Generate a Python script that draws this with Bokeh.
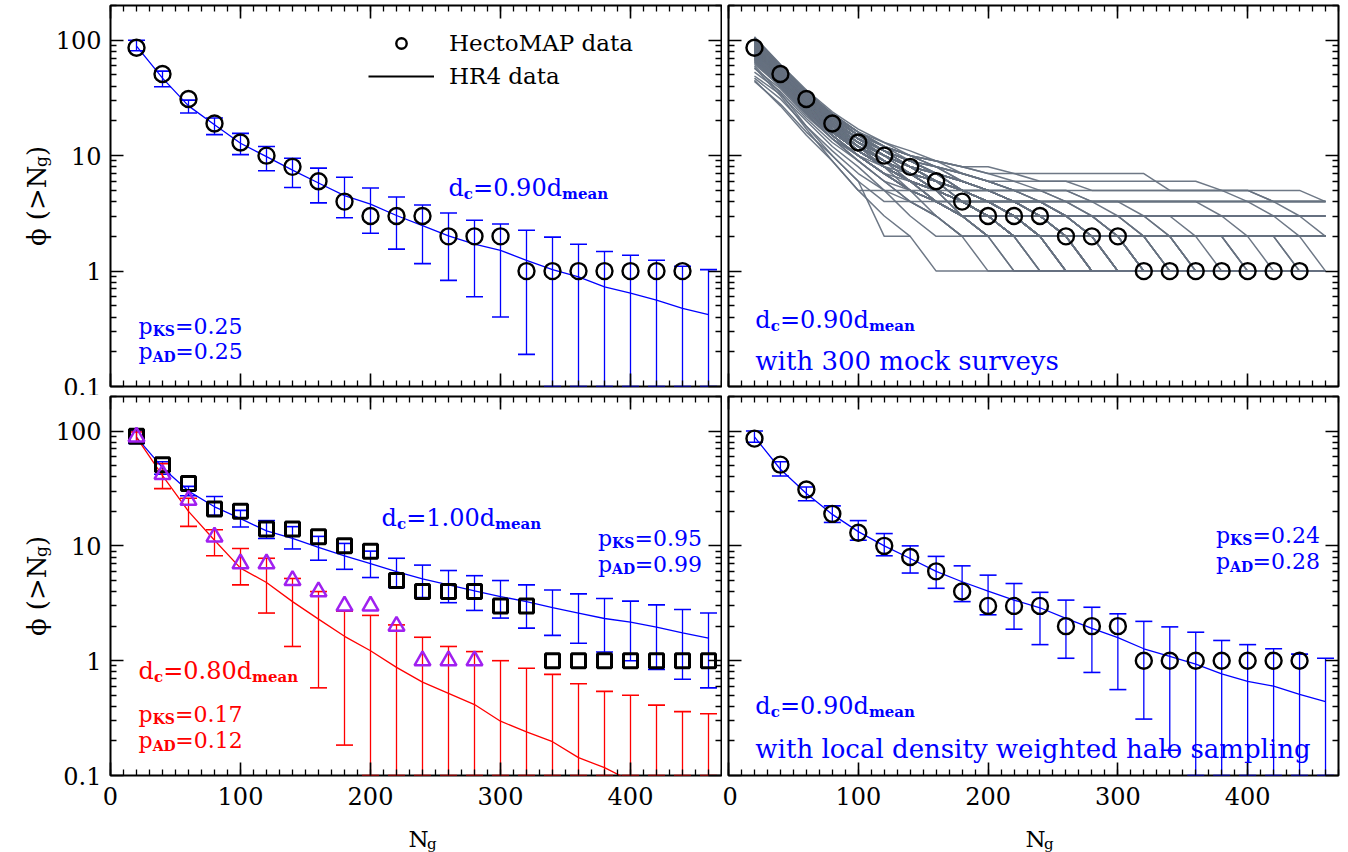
import math
from bokeh.plotting import figure
from bokeh.layouts import row, column
from bokeh.models import (Range1d, FixedTicker, LinearAxis, LogAxis, Label, Whisker,
                          TeeHead, ColumnDataSource, Legend, LegendItem,
                          CustomJSTickFormatter)
from bokeh.embed import file_html
from bokeh.resources import INLINE

# ---------------- data ----------------
NG = [20, 40, 60, 80, 100, 120, 140, 160, 180, 200, 220, 240, 260, 280, 300,
      320, 340, 360, 380, 400, 420, 440, 460]
NG_HECTO = NG[:22]
HECTO_CIRC = [86, 51, 31, 19, 13, 10, 8, 6, 4, 3, 3, 3, 2, 2, 2, 1, 1, 1, 1, 1, 1, 1]

# HR4, d_c = 0.90 d_mean
HR4_090 = [89, 47, 27, 18.5, 12.8, 9.8, 7.5, 5.8, 4.5, 3.8, 3.03, 2.48, 2.02, 1.71, 1.51,
           1.24, 1.03, 0.89, 0.73, 0.645, 0.56, 0.475, 0.42]
HR4_090_HI = [100, 54, 30.3, 21.2, 15.6, 12.0, 9.5, 7.8, 6.5, 5.25, 4.39, 3.74, 3.19, 2.76,
              2.56, 2.26, 1.97, 1.71, 1.48, 1.37, 1.24, 1.1, 1.03]
HR4_090_LO = [81, 39.5, 23.4, 15.2, 10.2, 7.4, 5.3, 3.9, 2.9, 2.13, 1.55, 1.16, 0.83, 0.6,
              0.40, 0.19, 0.1, 0.1, 0.1, 0.1, 0.1, 0.1, 0.1]

# bottom-left: two HectoMAP catalogues
HECTO_SQ = [90, 51, 35, 21, 20, 14, 14, 12, 10, 9, 5, 4, 4, 4, 3, 3, 1, 1, 1, 1, 1, 1, 1]
NG_TRI = NG[:14]
HECTO_TRI = [89, 42, 25, 12, 7, 7, 5, 4, 3, 3, 2, 1, 1, 1]

HR4_100 = [88, 48, 30, 21.9, 17.3, 13.5, 11.6, 9.7, 8.2, 7.0, 5.97, 5.15, 4.57, 4.06, 3.62,
           3.27, 2.9, 2.6, 2.33, 2.17, 1.96, 1.75, 1.57]
HR4_100_HI = [100, 54, 33, 26.9, 20.4, 16.6, 14.7, 12.1, 10.5, 9.0, 7.8, 6.8, 6.1, 5.5, 4.99,
              4.57, 4.13, 3.82, 3.48, 3.3, 3.06, 2.79, 2.6]
HR4_100_LO = [78, 42, 27.3, 18.5, 14.6, 11.6, 9.4, 7.5, 6.25, 5.3, 4.34, 3.55, 3.2, 2.74, 2.35,
              1.92, 1.66, 1.42, 1.19, 1.0, 0.84, 0.69, 0.58]

NAN = float("nan")
HR4_080 = [88, 41, 20, 11.2, 6.4, 4.8, 3.27, 2.3, 1.63, 1.22, 0.875, 0.65, 0.52, 0.415, 0.297,
           0.24, 0.197, 0.143, 0.117, 0.09, NAN, NAN, NAN]
HR4_080_HI = [98, 52, 26, 13.8, 9.5, 7.8, 5.2, 4.0, 2.7, 2.48, 2.05, 1.6, 1.33, 1.2, 1.0,
              0.86, 0.76, 0.63, 0.54, 0.5, 0.41, 0.36, 0.345]
HR4_080_LO = [80, 31.5, 14.8, 8.2, 4.57, 2.6, 1.33, 0.58, 0.184, 0.1, 0.1, 0.1, 0.1, 0.1, 0.1,
              0.1, 0.1, 0.1, 0.1, 0.1, 0.1, 0.1, 0.1]

# bottom-right: local density weighted halo sampling
HR4_LDW = [89, 46.5, 28.6, 18.8, 13.3, 10, 7.76, 6.0, 4.87, 4.04, 3.37, 2.89, 2.34, 1.91, 1.59,
           1.27, 1.09, 0.935, 0.766, 0.66, 0.6, 0.51, 0.44]
HR4_LDW_HI = [100, 54, 32.6, 22.3, 16.6, 12.8, 10, 8.1, 6.7, 5.56, 4.7, 3.94, 3.37, 2.92, 2.56,
              2.2, 1.97, 1.77, 1.5, 1.38, 1.27, 1.14, 1.05]
HR4_LDW_LO = [80, 40.6, 24.7, 16.0, 11.2, 8.2, 5.8, 4.27, 3.27, 2.51, 1.88, 1.38, 1.05, 0.79,
              0.56, 0.31, 0.166, 0.1, 0.1, 0.1, 0.1, 0.1, 0.1]

# representative mock surveys (cumulative counts, 0 = no cluster)
MOCKS = [
    [107, 62, 37, 24, 17, 13, 11, 9, 8, 7, 7, 7, 7, 7, 7, 7, 5, 5, 5, 5, 4, 4, 4],
    [106, 61, 36, 23, 16, 12, 10, 8, 7, 6, 5, 4, 4, 3, 3, 3, 2, 2, 2, 2, 2, 2, 2],
    [104, 60, 36, 23, 16, 13, 10, 9, 8, 8, 7, 6, 6, 5, 5, 5, 5, 5, 5, 5, 4, 4, 4],
    [103, 59, 34, 22, 15, 11, 9, 8, 6, 5, 4, 4, 3, 3, 2, 2, 2, 2, 2, 2, 2, 2, 2],
    [102, 59, 35, 23, 16, 12, 10, 9, 8, 7, 6, 6, 6, 6, 6, 6, 6, 6, 5, 5, 5, 5, 4],
    [101, 58, 35, 22, 16, 12, 10, 9, 7, 6, 5, 5, 5, 5, 5, 5, 5, 5, 5, 4, 4, 3, 3],
    [100, 58, 34, 22, 16, 12, 10, 8, 7, 6, 6, 5, 5, 4, 4, 4, 4, 4, 3, 3, 3, 3, 3],
    [100, 56, 33, 21, 15, 11, 8, 7, 6, 5, 4, 3, 3, 3, 3, 3, 2, 2, 2, 2, 2, 2, 2],
    [99, 57, 34, 22, 15, 12, 10, 8, 7, 6, 5, 4, 4, 4, 4, 4, 4, 4, 4, 4, 4, 4, 4],
    [98, 57, 34, 22, 15, 12, 9, 8, 7, 6, 5, 5, 4, 4, 4, 3, 3, 3, 3, 3, 3, 3, 3],
    [97, 56, 33, 21, 15, 11, 9, 8, 6, 5, 4, 4, 4, 3, 3, 3, 3, 3, 3, 3, 3, 3, 3],
    [97, 55, 32, 20, 14, 11, 9, 7, 5, 4, 4, 4, 3, 3, 2, 2, 2, 2, 2, 1, 1, 1, 1],
    [96, 55, 32, 21, 15, 11, 9, 7, 6, 5, 4, 4, 3, 3, 3, 2, 2, 2, 2, 2, 2, 2, 2],
    [95, 55, 33, 21, 15, 11, 9, 7, 6, 5, 4, 3, 3, 3, 3, 3, 3, 3, 3, 3, 3, 3, 2],
    [95, 54, 31, 20, 14, 10, 8, 7, 5, 4, 3, 3, 3, 3, 2, 2, 2, 1, 1, 1, 1, 1, 1],
    [94, 54, 32, 21, 14, 11, 9, 7, 6, 5, 5, 4, 4, 4, 3, 3, 3, 3, 3, 2, 2, 2, 2],
    [93, 54, 32, 20, 14, 11, 9, 7, 6, 5, 4, 3, 3, 2, 2, 2, 2, 2, 2, 2, 2, 2, 2],
    [93, 52, 30, 19, 14, 11, 9, 7, 5, 4, 4, 3, 3, 2, 2, 1, 1, 1, 1, 1, 1, 1, 1],
    [92, 53, 31, 20, 14, 11, 8, 7, 6, 5, 4, 4, 3, 3, 3, 3, 3, 2, 2, 2, 2, 2, 2],
    [92, 54, 32, 21, 15, 11, 8, 6, 5, 4, 4, 4, 3, 3, 3, 2, 2, 2, 2, 2, 2, 1, 1],
    [91, 53, 31, 20, 14, 11, 8, 7, 5, 4, 4, 3, 3, 3, 2, 2, 2, 2, 2, 2, 2, 2, 2],
    [91, 52, 30, 19, 13, 10, 8, 6, 5, 5, 4, 3, 2, 2, 2, 2, 2, 2, 2, 2, 2, 2, 2],
    [90, 53, 31, 20, 14, 10, 8, 7, 6, 5, 5, 5, 4, 4, 4, 4, 4, 4, 4, 4, 3, 3, 3],
    [90, 52, 31, 20, 14, 10, 8, 6, 5, 4, 3, 3, 2, 2, 2, 2, 2, 2, 2, 1, 1, 1, 1],
    [89, 52, 30, 20, 14, 10, 8, 7, 5, 4, 4, 3, 3, 2, 2, 2, 1, 1, 1, 1, 1, 1, 1],
    [89, 51, 30, 19, 14, 10, 8, 6, 5, 5, 4, 4, 3, 3, 3, 3, 3, 3, 3, 3, 3, 3, 3],
    [89, 50, 29, 18, 13, 10, 8, 6, 5, 4, 3, 3, 2, 1, 1, 1, 1, 1, 1, 1, 1, 1, 1],
    [88, 52, 30, 20, 14, 10, 8, 6, 5, 4, 3, 3, 3, 3, 3, 2, 2, 2, 2, 2, 2, 2, 1],
    [88, 51, 30, 19, 13, 10, 8, 6, 5, 4, 3, 3, 2, 2, 2, 1, 1, 1, 1, 1, 1, 1, 1],
    [87, 51, 30, 19, 13, 10, 8, 6, 5, 4, 3, 3, 3, 2, 2, 2, 2, 2, 1, 1, 1, 1, 1],
    [87, 50, 30, 19, 13, 10, 8, 6, 5, 4, 3, 2, 2, 2, 1, 1, 1, 1, 1, 1, 1, 1, 1],
    [87, 49, 28, 18, 13, 9, 7, 6, 4, 3, 3, 2, 2, 2, 2, 1, 1, 1, 1, 1, 1, 1, 1],
    [86, 50, 29, 19, 13, 10, 7, 6, 5, 4, 4, 3, 2, 2, 2, 2, 1, 1, 1, 1, 1, 1, 1],
    [86, 49, 29, 19, 13, 10, 8, 6, 4, 4, 3, 2, 2, 1, 1, 1, 1, 1, 1, 1, 1, 1, 1],
    [86, 48, 28, 18, 12, 9, 7, 5, 4, 3, 2, 1, 1, 1, 1, 1, 1, 1, 1, 1, 1, 1, 1],
    [85, 50, 29, 19, 13, 9, 7, 6, 5, 4, 3, 3, 3, 2, 2, 1, 1, 1, 1, 1, 1, 1, 1],
    [85, 49, 29, 18, 13, 10, 7, 6, 4, 3, 3, 2, 2, 2, 2, 2, 2, 1, 1, 1, 1, 1, 1],
    [85, 48, 27, 17, 12, 9, 7, 5, 4, 3, 3, 2, 1, 1, 1, 1, 1, 1, 1, 1, 1, 1, 1],
    [84, 49, 29, 18, 13, 9, 7, 6, 5, 4, 3, 2, 2, 2, 2, 2, 2, 2, 2, 2, 1, 1, 1],
    [84, 48, 28, 18, 12, 9, 7, 5, 4, 3, 2, 2, 2, 1, 1, 1, 1, 1, 1, 1, 1, 1, 0],
    [84, 47, 27, 17, 11, 8, 6, 4, 3, 2, 2, 2, 1, 1, 1, 1, 1, 1, 1, 1, 1, 1, 1],
    [83, 49, 28, 18, 12, 9, 7, 6, 4, 3, 3, 3, 2, 2, 1, 1, 1, 1, 1, 1, 1, 1, 1],
    [83, 48, 28, 18, 12, 9, 7, 5, 4, 3, 2, 2, 1, 1, 1, 1, 1, 1, 1, 1, 1, 1, 1],
    [83, 46, 27, 17, 12, 8, 6, 5, 4, 4, 3, 3, 2, 2, 2, 2, 2, 2, 2, 2, 2, 2, 2],
    [82, 48, 28, 18, 12, 9, 7, 5, 4, 4, 3, 3, 2, 1, 1, 1, 1, 1, 1, 1, 1, 1, 1],
    [82, 47, 28, 18, 12, 9, 7, 5, 4, 3, 3, 2, 2, 2, 2, 2, 2, 2, 2, 2, 2, 2, 2],
    [81, 48, 28, 18, 12, 9, 7, 6, 5, 4, 3, 2, 2, 2, 2, 1, 1, 1, 1, 1, 1, 1, 1],
    [81, 47, 27, 17, 12, 9, 7, 5, 4, 3, 2, 2, 2, 2, 1, 1, 1, 1, 1, 1, 1, 1, 1],
    [81, 46, 26, 16, 11, 8, 6, 5, 4, 3, 2, 2, 2, 2, 2, 2, 1, 1, 1, 1, 1, 1, 1],
    [80, 47, 27, 18, 12, 9, 7, 5, 4, 3, 3, 3, 2, 2, 2, 2, 2, 2, 2, 2, 2, 2, 2],
    [80, 46, 27, 17, 12, 9, 6, 5, 3, 3, 2, 2, 1, 1, 1, 1, 1, 1, 1, 1, 0, 0, 0],
    [79, 47, 27, 17, 12, 9, 6, 5, 4, 3, 2, 2, 2, 2, 2, 1, 1, 1, 1, 1, 1, 1, 1],
    [79, 46, 27, 17, 12, 8, 6, 5, 3, 2, 2, 2, 2, 1, 1, 1, 1, 1, 1, 1, 1, 1, 1],
    [79, 45, 26, 16, 11, 8, 7, 5, 4, 3, 3, 2, 2, 2, 1, 1, 1, 1, 1, 1, 1, 1, 1],
    [78, 46, 27, 17, 12, 8, 6, 5, 4, 3, 2, 2, 1, 1, 1, 1, 1, 1, 1, 0, 0, 0, 0],
    [78, 45, 26, 17, 11, 8, 6, 5, 4, 3, 3, 3, 3, 3, 2, 2, 2, 2, 2, 2, 2, 1, 1],
    [77, 46, 26, 17, 11, 8, 6, 5, 4, 4, 3, 2, 2, 2, 1, 1, 1, 1, 1, 1, 1, 1, 1],
    [77, 45, 26, 17, 11, 8, 6, 4, 3, 2, 2, 1, 1, 1, 1, 1, 1, 1, 1, 1, 1, 1, 1],
    [77, 44, 25, 16, 11, 8, 6, 5, 4, 3, 3, 3, 3, 2, 2, 2, 2, 2, 2, 2, 2, 2, 2],
    [76, 45, 26, 17, 11, 8, 6, 5, 4, 3, 3, 2, 2, 1, 1, 1, 1, 1, 1, 1, 1, 1, 1],
    [76, 44, 26, 16, 11, 8, 6, 5, 4, 4, 3, 3, 3, 2, 2, 2, 2, 2, 2, 2, 2, 2, 2],
    [75, 45, 26, 16, 11, 8, 6, 4, 4, 3, 3, 2, 2, 2, 2, 2, 2, 1, 1, 1, 1, 1, 1],
    [75, 43, 25, 15, 10, 8, 6, 5, 4, 3, 2, 2, 2, 1, 1, 1, 1, 1, 1, 1, 1, 1, 1],
    [74, 44, 26, 16, 11, 8, 6, 5, 4, 3, 2, 2, 2, 2, 2, 2, 2, 2, 2, 2, 2, 2, 2],
    [74, 44, 25, 16, 11, 8, 6, 4, 3, 2, 1, 1, 1, 1, 1, 1, 1, 1, 1, 1, 1, 1, 1],
    [73, 43, 25, 16, 11, 8, 6, 4, 3, 3, 2, 2, 2, 2, 2, 1, 1, 1, 1, 1, 1, 1, 1],
    [73, 42, 24, 15, 10, 7, 6, 5, 4, 3, 3, 3, 2, 2, 2, 2, 2, 2, 2, 2, 2, 2, 2],
    [72, 43, 25, 16, 11, 8, 6, 4, 3, 3, 2, 2, 2, 1, 1, 1, 1, 1, 1, 1, 1, 1, 1],
    [71, 42, 25, 16, 11, 8, 5, 4, 3, 2, 2, 2, 1, 1, 1, 1, 1, 1, 1, 1, 1, 0, 0],
    [70, 43, 25, 16, 11, 8, 6, 5, 4, 3, 3, 3, 2, 2, 2, 2, 2, 2, 2, 1, 1, 1, 1],
    [70, 41, 24, 15, 10, 7, 5, 4, 3, 2, 2, 2, 2, 2, 2, 2, 1, 1, 1, 1, 1, 1, 1],
    [69, 42, 24, 15, 10, 7, 5, 4, 3, 2, 2, 1, 1, 1, 1, 1, 1, 1, 1, 1, 1, 1, 1],
    [68, 42, 24, 15, 10, 7, 5, 4, 3, 3, 2, 2, 2, 2, 1, 1, 1, 1, 1, 1, 1, 1, 1],
    [67, 41, 24, 15, 10, 7, 5, 4, 3, 3, 3, 2, 2, 2, 2, 2, 2, 2, 2, 2, 2, 2, 2],
    [66, 40, 23, 14, 10, 7, 5, 4, 3, 3, 2, 2, 1, 1, 1, 1, 1, 1, 1, 1, 1, 1, 1],
    [65, 41, 24, 15, 10, 7, 5, 4, 4, 3, 3, 3, 3, 3, 3, 3, 3, 3, 3, 3, 3, 2, 2],
    [64, 39, 23, 14, 9, 6, 5, 4, 3, 2, 2, 2, 2, 2, 1, 1, 1, 1, 1, 1, 1, 1, 1],
    [62, 40, 23, 14, 10, 7, 5, 3, 2, 2, 2, 2, 2, 2, 2, 2, 2, 1, 1, 1, 1, 1, 1],
    [60, 35, 18, 10, 6, 4, 4, 4, 4, 4, 4, 4, 4, 4, 4, 4, 4, 4, 4, 4, 4, 4, 4],
    [58, 33, 17, 9, 5, 5, 5, 5, 5, 5, 5, 5, 5, 4, 4, 4, 4, 4, 4, 4, 4, 4, 4],
    [57, 38, 22, 14, 9, 6, 4, 3, 2, 2, 1, 1, 1, 1, 1, 1, 1, 1, 1, 1, 1, 1, 1],
    [53, 36, 21, 13, 9, 6, 4, 3, 2, 1, 1, 1, 1, 1, 1, 1, 1, 1, 1, 1, 1, 1, 1],
    [49, 34, 20, 12, 8, 5, 4, 3, 2, 2, 2, 2, 2, 1, 1, 1, 1, 1, 1, 1, 1, 1, 1],
    [47, 31, 18, 11, 7, 5, 3, 2, 2, 2, 2, 2, 2, 2, 2, 2, 2, 2, 2, 2, 2, 2, 2],
    [45, 27, 15, 9, 5, 3, 2, 1, 1, 1, 1, 1, 1, 1, 1, 1, 1, 1, 1, 1, 1, 1, 1],
    [44, 28, 16, 10, 6, 2, 2, 0, 0, 0, 0, 0, 0, 0, 0, 0, 0, 0, 0, 0, 0, 0, 0],
]

X_TICKS = [0, 100, 200, 300, 400]
Y_TICKS = [0.1, 1, 10, 100]

# ---------------- style ----------------
FONT = "DejaVu Serif"
BLUE = "#0000ff"
RED = "#ff0000"
PURPLE = "#a020f0"
GRAY = "#66717f"

W_NORM = {'d': 0.640, 'c': 0.561, '=': 0.838, '.': 0.318, 'p': 0.641, 'm': 0.956,
          'e': 0.592, 'a': 0.596, 'n': 0.644, 'K': 0.765, 'S': 0.689, 'A': 0.722,
          'D': 0.815, 'N': 0.8, 'g': 0.641, '(': 0.39, ')': 0.39, '>': 0.838,
          '\u03d5': 0.70, ' ': 0.318}
W_BOLD = {'c': 0.617, 'm': 1.041, 'e': 0.675, 'a': 0.672, 'n': 0.716, 'K': 0.877,
          'S': 0.722, 'A': 0.773, 'D': 0.837, 'g': 0.703}

Y_FMT = "return tick >= 1 ? tick.toFixed(0) : tick.toFixed(1);"


def text_width(s, size, bold):
    tab = W_BOLD if bold else W_NORM
    return sum(tab.get(ch, W_NORM.get(ch, 0.636)) for ch in s) * size


def rich(p, x, y, parts, color, size=22, sub=14, drop=5, align="left", angle=0.0,
         bold_sub=True):
    total = sum(text_width(t, sub if s else size, s and bold_sub) for t, s in parts)
    off = -total / 2 if align == "center" else 0.0
    for t, s in parts:
        fs = sub if s else size
        if angle == 0:
            xo, yo = off, -(drop if s else 0)
        else:
            xo, yo = (drop if s else 0), off
        p.add_layout(Label(x=x, y=y, x_offset=xo, y_offset=yo, text=t, angle=angle,
                           text_font=FONT, text_font_size=f"{fs}px",
                           text_font_style="bold" if (s and bold_sub) else "normal",
                           text_color=color, text_baseline="alphabetic",
                           text_align="left"))
        off += text_width(t, fs, s and bold_sub)


def make_fig(width, height, bl, br, bt, bb, xlabels, ylabels):
    p = figure(width=width, height=height, y_axis_type="log",
               x_range=Range1d(0, 470), y_range=Range1d(0.1, 200),
               output_backend="svg", toolbar_location=None,
               min_border_left=bl, min_border_right=br,
               min_border_top=bt, min_border_bottom=bb)
    p.grid.visible = False
    p.outline_line_color = "black"
    p.outline_line_width = 2
    p.background_fill_color = "white"
    p.border_fill_color = "white"
    xminor = list(range(0, 471, 10))
    yminor = [m * 10.0 ** k for k in range(-1, 3) for m in range(2, 10) if m * 10.0 ** k <= 200]
    p.add_layout(LinearAxis(), "above")
    p.add_layout(LogAxis(), "right")
    for ax in p.xaxis:
        ax.ticker = FixedTicker(ticks=X_TICKS, minor_ticks=xminor)
    for ax in p.yaxis:
        ax.ticker = FixedTicker(ticks=Y_TICKS, minor_ticks=yminor)
        ax.formatter = CustomJSTickFormatter(code=Y_FMT)
    for ax in list(p.xaxis) + list(p.yaxis):
        ax.axis_line_color = None
        ax.major_tick_in = 13
        ax.major_tick_out = 0
        ax.minor_tick_in = 6
        ax.minor_tick_out = 0
        ax.major_tick_line_color = "black"
        ax.minor_tick_line_color = "black"
        ax.major_tick_line_width = 1.6
        ax.minor_tick_line_width = 1.3
        ax.major_label_text_color = None
        ax.major_label_standoff = 0
    if xlabels:
        ax = p.below[0]
        ax.major_label_text_font_size = "24px"
        ax.major_label_text_font = FONT
        ax.major_label_text_color = "black"
        ax.major_label_standoff = 11
    if ylabels:
        ax = p.left[0]
        ax.major_label_text_font_size = "24px"
        ax.major_label_text_font = FONT
        ax.major_label_text_color = "black"
        ax.major_label_standoff = 9
    return p


def text_fig(width, height):
    # a blank canvas (no axes) whose data units are pixels, used for the axis titles
    p = figure(width=width, height=height, x_range=Range1d(0, width),
               y_range=Range1d(0, height), output_backend="svg", toolbar_location=None,
               x_axis_location=None, y_axis_location=None,
               min_border=0, min_border_left=0, min_border_right=0, min_border_top=0,
               min_border_bottom=0)
    p.grid.visible = False
    p.outline_line_color = None
    p.background_fill_color = "white"
    p.border_fill_color = "white"
    return p


def whisk(p, x, lo, hi, color):
    src = ColumnDataSource(dict(x=x, lo=lo, hi=hi))
    p.add_layout(Whisker(source=src, base="x", lower="lo", upper="hi",
                         line_color=color, line_width=1.3,
                         upper_head=TeeHead(size=17, line_color=color, line_width=1.6),
                         lower_head=TeeHead(size=17, line_color=color, line_width=1.6)))


def circles(p):
    return p.scatter(NG_HECTO, HECTO_CIRC, marker="circle", size=16, fill_color=None,
                     line_color="black", line_width=2.4)


# ---------------- panels ----------------
YLAB_W = 52
XLAB_H = 36
p1 = make_fig(670, 395, 57, 1, 5, 9, False, True)
p2 = make_fig(626, 395, 6, 10, 5, 9, False, False)
p3 = make_fig(670, 421, 57, 1, 1, 41, True, True)
p4 = make_fig(626, 421, 6, 10, 1, 41, True, False)

# axis titles
ylab = text_fig(YLAB_W, 852)
YTITLE = [("\u03d5 (>N", False), ("g", True), (")", False)]
rich(ylab, 36, 852 - 195.5, YTITLE, "black", size=26, sub=17, drop=4, align="center",
     angle=math.pi / 2, bold_sub=False)
rich(ylab, 36, 852 - 585.5, YTITLE, "black", size=26, sub=17, drop=4, align="center",
     angle=math.pi / 2, bold_sub=False)
xlab = text_fig(1296, XLAB_H)
XTITLE = [("N", False), ("g", True)]
rich(xlab, 370, 14, XTITLE, "black", size=23, sub=15, drop=5, align="center", bold_sub=False)
rich(xlab, 987, 14, XTITLE, "black", size=23, sub=15, drop=5, align="center", bold_sub=False)

# top-left
whisk(p1, NG, HR4_090_LO, HR4_090_HI, BLUE)
p1.line(NG, HR4_090, line_color=BLUE, line_width=1.3)
circ = circles(p1)
legline = p1.line(NG, HR4_090, line_color="black", line_width=2, visible=False)
leg = Legend(items=[LegendItem(label="HectoMAP data", renderers=[circ]),
                    LegendItem(label="HR4 data", renderers=[legline])],
             location=(258, 297), orientation="vertical",
             glyph_width=66, glyph_height=26, label_height=26, label_standoff=15,
             spacing=7, padding=0, margin=0, border_line_color=None,
             background_fill_alpha=0, inactive_fill_alpha=0,
             label_text_font=FONT, label_text_font_size="23px",
             label_text_color="black")
p1.add_layout(leg)
rich(p1, 260, 5.25, [("d", False), ("c", True), ("=0.90d", False), ("mean", True)], BLUE,
     size=24, sub=15, drop=6)
rich(p1, 21.6, 0.333, [("p", False), ("KS", True), ("=0.25", False)], BLUE, size=22, sub=14)
rich(p1, 21.6, 0.20, [("p", False), ("AD", True), ("=0.25", False)], BLUE, size=22, sub=14)

# top-right
p2.multi_line([NG for _ in MOCKS], [[v if v > 0 else NAN for v in m] for m in MOCKS],
              line_color=GRAY, line_width=1.5, line_alpha=0.95)
circles(p2)
rich(p2, 20.7, 0.38, [("d", False), ("c", True), ("=0.90d", False), ("mean", True)], BLUE,
     size=24, sub=15, drop=6)
p2.add_layout(Label(x=20.7, y=0.166, text="with 300 mock surveys", text_font=FONT,
                    text_font_size="26px", text_color=BLUE, text_baseline="alphabetic"))

# bottom-left
whisk(p3, NG, HR4_100_LO, HR4_100_HI, BLUE)
p3.line(NG, HR4_100, line_color=BLUE, line_width=1.3)
whisk(p3, NG, HR4_080_LO, HR4_080_HI, RED)
p3.line(NG, HR4_080, line_color=RED, line_width=1.3)
p3.scatter(NG, HECTO_SQ, marker="square", size=14, fill_color=None, line_color="black",
           line_width=3)
p3.scatter(NG_TRI, HECTO_TRI, marker="triangle", size=16, fill_color=None,
           line_color=PURPLE, line_width=2.5)
rich(p3, 208.5, 17.6, [("d", False), ("c", True), ("=1.00d", False), ("mean", True)], BLUE,
     size=24, sub=15, drop=6)
rich(p3, 375, 11.6, [("p", False), ("KS", True), ("=0.95", False)], BLUE, size=22, sub=14)
rich(p3, 375, 6.9, [("p", False), ("AD", True), ("=0.99", False)], BLUE, size=22, sub=14)
rich(p3, 21.6, 0.81, [("d", False), ("c", True), ("=0.80d", False), ("mean", True)], RED,
     size=24, sub=15, drop=6)
rich(p3, 21.6, 0.34, [("p", False), ("KS", True), ("=0.17", False)], RED, size=22, sub=14)
rich(p3, 21.6, 0.20, [("p", False), ("AD", True), ("=0.12", False)], RED, size=22, sub=14)

# bottom-right
whisk(p4, NG, HR4_LDW_LO, HR4_LDW_HI, BLUE)
p4.line(NG, HR4_LDW, line_color=BLUE, line_width=1.3)
circles(p4)
rich(p4, 375.6, 12.4, [("p", False), ("KS", True), ("=0.24", False)], BLUE, size=22, sub=14)
rich(p4, 375.6, 7.25, [("p", False), ("AD", True), ("=0.28", False)], BLUE, size=22, sub=14)
rich(p4, 20.7, 0.40, [("d", False), ("c", True), ("=0.90d", False), ("mean", True)], BLUE,
     size=24, sub=15, drop=6)
p4.add_layout(Label(x=20.7, y=0.169, text="with local density weighted halo sampling",
                    text_font=FONT, text_font_size="26px", text_color=BLUE,
                    text_baseline="alphabetic"))

layout = row(ylab,
             column(row(p1, p2, spacing=0), row(p3, p4, spacing=0), xlab, spacing=0),
             spacing=0)

with open("out.html", "w") as f:
    f.write(file_html(layout, INLINE))
